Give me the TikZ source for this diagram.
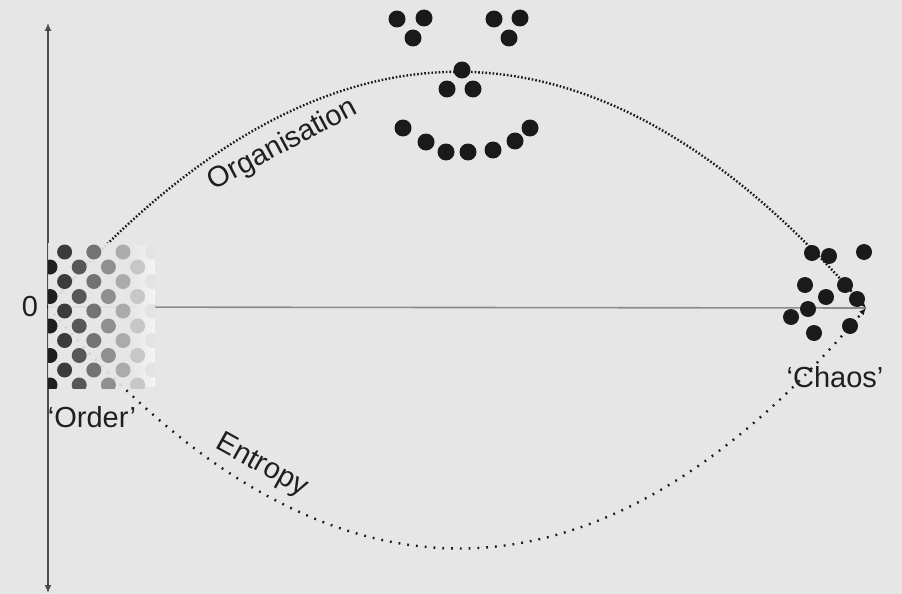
\documentclass[tikz,border=0pt]{standalone}
\usepackage{fontspec}
\setmainfont{Liberation Sans}
\usetikzlibrary{arrows.meta}
\definecolor{bg}{HTML}{E6E6E6}
\definecolor{ink}{HTML}{1A1A1A}
\begin{document}
\begin{tikzpicture}[x=1pt,y=-1pt,
  axis/.style={draw=black!70, line width=1.4pt},
  base/.style={draw=black!45, line width=1.6pt},
  org/.style={draw=ink, line width=2.4pt, dash pattern=on 1.6pt off 2pt, -{Latex[length=7pt,width=6pt]}},
  ent/.style={draw=ink, line width=2.4pt, dash pattern=on 1.8pt off 7pt, -{Latex[length=7pt,width=6pt]}},
  ball/.style={fill=ink},
  lbl/.style={font=\fontsize{29}{32}\selectfont, text=black!88, inner sep=0pt}]
\fill[bg] (0,0) rectangle (902,594);
\useasboundingbox (0,0) rectangle (902,594);
% axes
\coordinate (top) at (48,23);
\coordinate (bot) at (48,593);
\coordinate (o) at (48,307);
\coordinate (e) at (866,308);
\draw[axis, {Latex[length=8pt,width=7pt]}-{Latex[length=8pt,width=7pt]}] (bot) -- (top);
\draw[base] (o) -- (e);
% curves
\draw[org] (o) .. controls (321,-6) and (595,-6) .. (e);
\draw[ent] (o) .. controls (321,628) and (595,628) .. (e);
% order block
\fill[bg, opacity=0.9] (48,243) rectangle (155,388);
\shade[left color=bg, right color=white, opacity=0.6] (130,245) rectangle (155,386);
\begin{scope}
  \clip (48,243) rectangle (155,388);
  \foreach \c in {0,...,7} {
    \pgfmathsetmacro\xx{50+14.6*\c}
    \pgfmathtruncatemacro\sh{88-11*\c}
    \pgfmathtruncatemacro\yy{mod(\c,2)==1 ? 252 : 267}
    \foreach \k in {0,...,4}
      \fill[black!\sh] (\xx,\yy+29.5*\k) circle[radius=7.5];
  }
\end{scope}
% chaos dots
\foreach \p in {(812,253),(829,256),(864,252),(805,285),(845,285),(826,297),(857,299),(808,309),(791,317),(850,326),(814,333)}
  \fill[ball] \p circle[radius=8];
% face
\foreach \p in {(397,19),(424,18),(413,38),(494,19),(520,18),(509,38),(462,70),(447,89),(473,89),(403,128),(426,142),(446,152),(468,152),(493,150),(515,141),(530,128)}
  \fill[ball] \p circle[radius=8.5];
% labels
\node[lbl, rotate=28] (orgl) at (283,145) {Organisation};
\node[lbl, rotate=-29] (entl) at (262,466) {Entropy};
\node[lbl] (zero) at (30,307) {0};
\node[lbl, anchor=base] (order) at (92,427) {‘Order’};
\node[lbl, anchor=base] (chaos) at (835,387) {‘Chaos’};
\end{tikzpicture}
\end{document}
